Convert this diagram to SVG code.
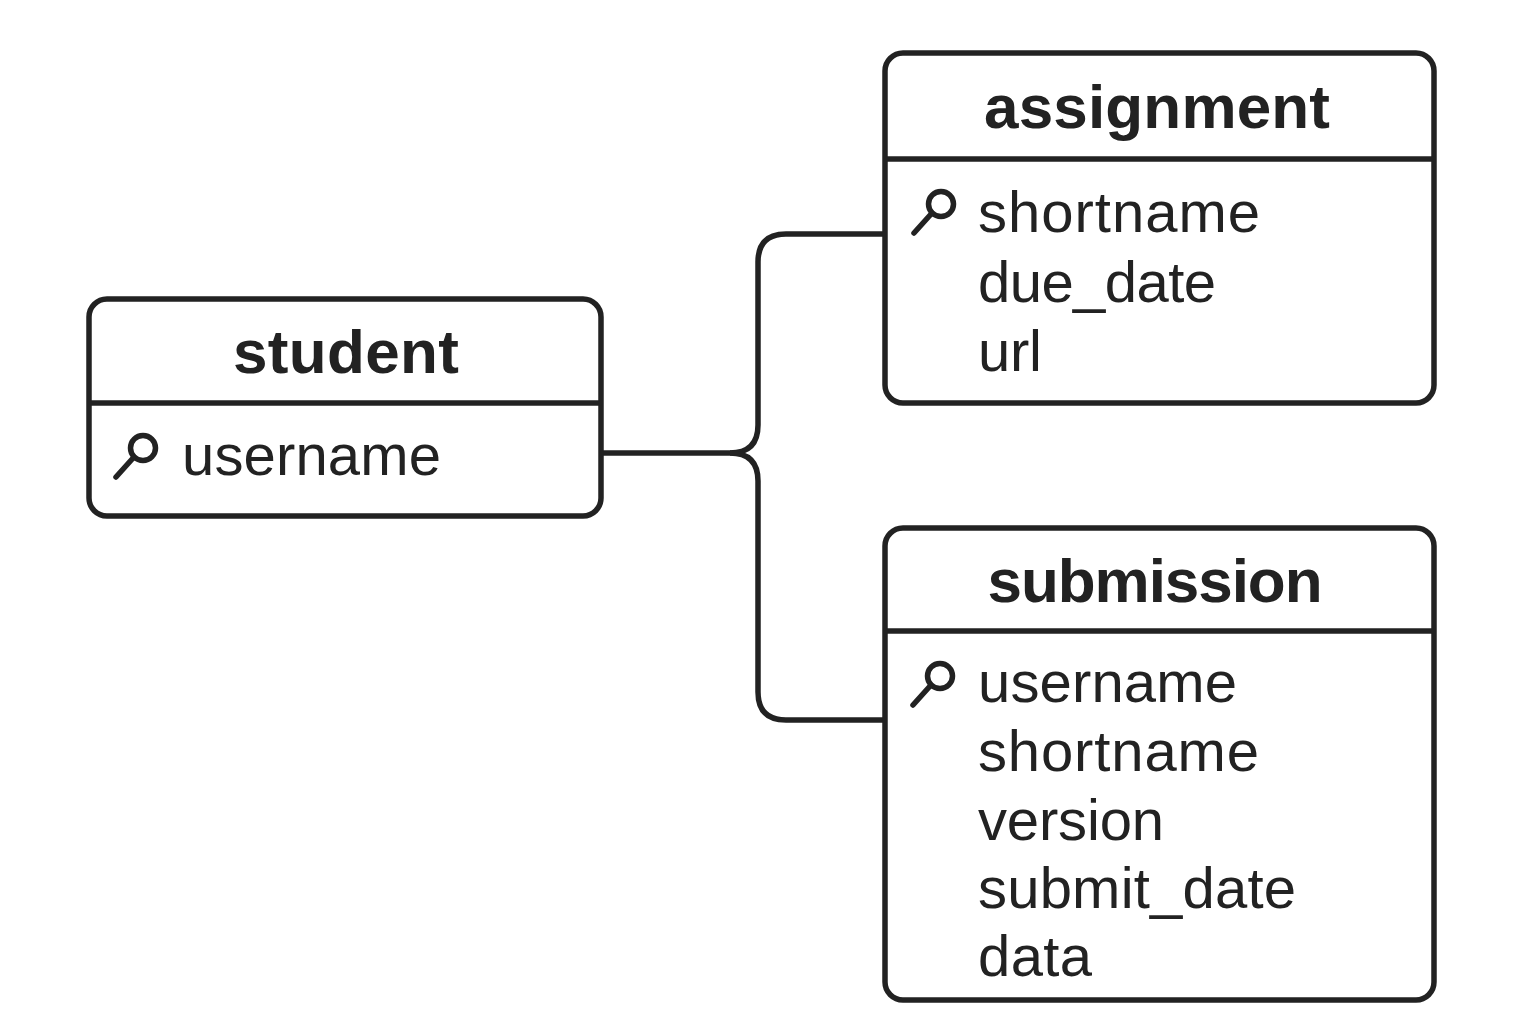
<svg xmlns="http://www.w3.org/2000/svg" width="1536" height="1024" viewBox="0 0 1536 1024">
<style>
.box{fill:#fff;stroke:#222;stroke-width:5.500}
.div{stroke:#222;stroke-width:5.500;fill:none}
.conn{stroke:#222;stroke-width:5.500;fill:none}
.key{stroke:#222;stroke-width:5.500;fill:none;stroke-linecap:round}
.h{font-family:"Liberation Sans",Arial,sans-serif;font-weight:700;font-size:62px;fill:#222;text-anchor:middle}
.t{font-family:"Liberation Sans",Arial,sans-serif;font-weight:400;font-size:58px;fill:#222}
</style>
<defs><g id="k"><circle cx="27" cy="-14" r="12.500" class="key"/><path d="M18 -5L0 15" class="key"/></g></defs>
<rect width="1536" height="1024" fill="#fff"/>
<g id="connectors">
<path class="conn" d="M603 453H730Q758 453 758 425V262Q758 234 786 234H885"/>
<path class="conn" d="M730 453Q758 453 758 481V692Q758 720 786 720H885"/>
</g>
<g id="student">
<rect class="box" x="89" y="299" width="512" height="217" rx="18"/>
<path class="div" d="M90 403H601"/>
<text class="h" x="346" y="373" textLength="226">student</text>
<use href="#k" x="116" y="462"/>
<text class="t" x="182" y="475" textLength="259">username</text>
</g>
<g id="assignment">
<rect class="box" x="885" y="53" width="549" height="350" rx="18"/>
<path class="div" d="M886 159H1434"/>
<text class="h" x="1157" y="128" textLength="346">assignment</text>
<use href="#k" x="914" y="218"/>
<text class="t" x="978" y="232" textLength="282">shortname</text>
<text class="t" x="978" y="302" textLength="238">due_date</text>
<text class="t" x="978" y="371" textLength="64">url</text>
</g>
<g id="submission">
<rect class="box" x="885" y="528" width="549" height="472" rx="18"/>
<path class="div" d="M886 631H1434"/>
<text class="h" x="1155" y="602" textLength="335">submission</text>
<use href="#k" x="913" y="690"/>
<text class="t" x="978" y="702" textLength="259">username</text>
<text class="t" x="978" y="771" textLength="281">shortname</text>
<text class="t" x="978" y="840" textLength="186">version</text>
<text class="t" x="978" y="908" textLength="318">submit_date</text>
<text class="t" x="978" y="976" textLength="114">data</text>
</g>
</svg>
